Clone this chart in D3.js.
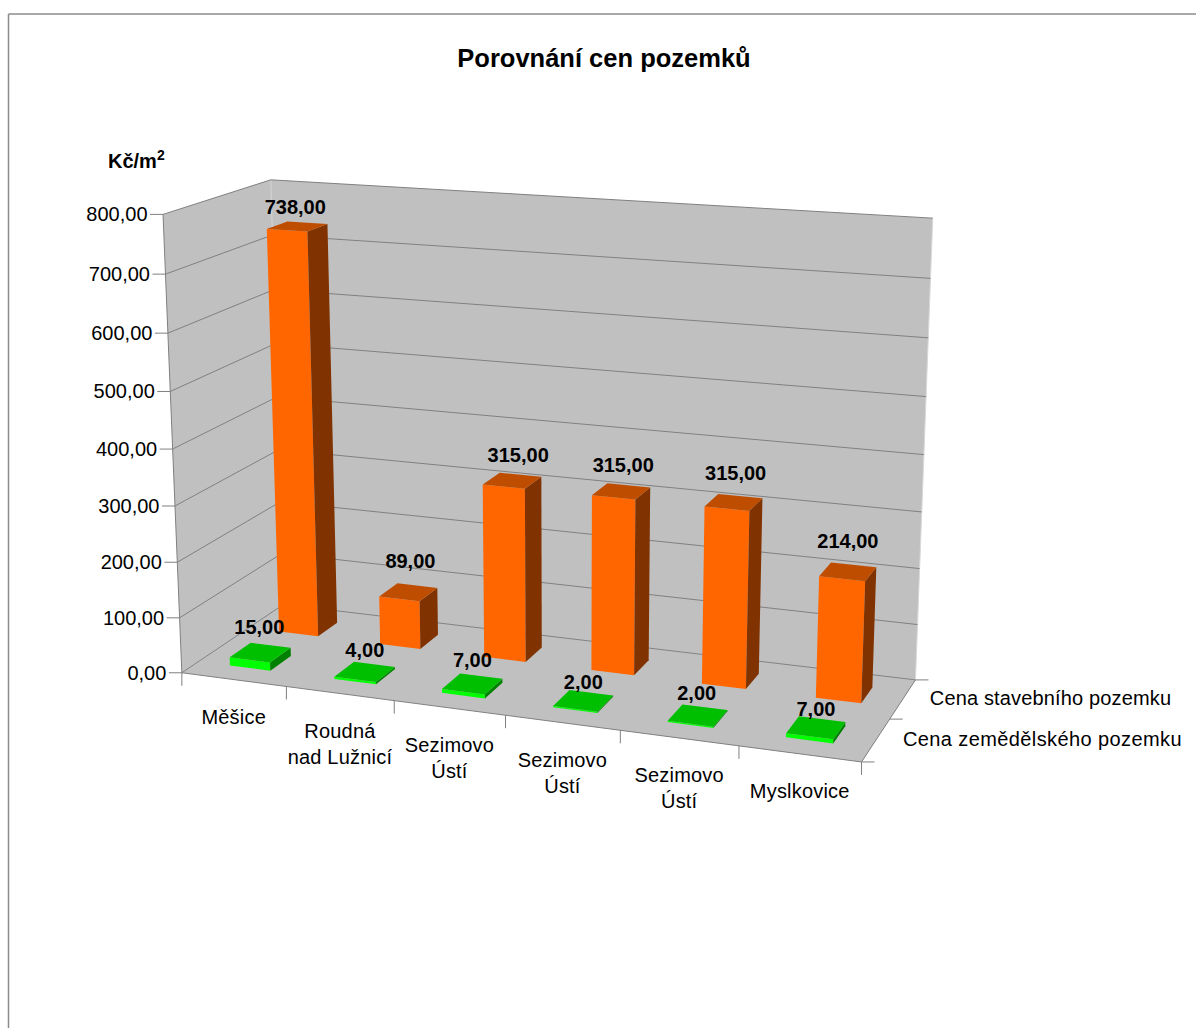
<!DOCTYPE html>
<html><head><meta charset="utf-8">
<style>html,body{margin:0;padding:0;background:#fff}svg{display:block}text{font-family:"Liberation Sans",Arial,sans-serif;fill:#000}</style>
<script src="https://cdn.jsdelivr.net/npm/d3@7/dist/d3.min.js"></script>
</head><body><svg id="c" width="1196" height="1028"></svg>
<script>
const categories = [["Měšice"],["Roudná","nad Lužnicí"],["Sezimovo","Ústí"],["Sezimovo","Ústí"],["Sezimovo","Ústí"],["Myslkovice"]];
const seriesNames = ["Cena zemědělského pozemku","Cena stavebního pozemku"];
const farmland = [15,4,7,2,2,7];
const building = [738,89,315,315,315,214];
const title = "Porovnání cen pozemků";
const axisTitle = "Kč/m";
const axisTitleSup = "2";

// layout only: label nudges in px, per series and category
const labelNudge = [
 [[-1,-1],[0,3],[0,1],[0,6],[-1,2],[0,6]],
 [[-2,5],[2,-7],[6,-1],[2,-2],[2,-5],[0,-6]]
];
const seriesSpacing = [.4,.15];

// camera calibration: box corner (u,v,h) -> screen (x,y)
const calibration = [
 [0,0,0,182,673],[1,0,0,861,761],[0,1,0,283,604],[1,1,0,915,680],
 [0,0,1,162.5,215],[0,1,1,271,180.5],[1,1,1,933,218],
 [1/6,0,0,287,686.7],[2/6,0,0,394.7,701],[3/6,0,0,505.7,716],[4/6,0,0,620,731],[5/6,0,0,739,746],
 [0,0,.5,172.5,447],[1,1,.25,920,568],[1,1,.125,917.7,625]
];
function solve(A,b){const n=b.length;A=A.map((r,i)=>[...r,b[i]]);
 for(let i=0;i<n;i++){let p=i;for(let k=i+1;k<n;k++)if(Math.abs(A[k][i])>Math.abs(A[p][i]))p=k;[A[i],A[p]]=[A[p],A[i]];
  for(let k=i+1;k<n;k++){const f=A[k][i]/A[i][i];for(let j=i;j<=n;j++)A[k][j]-=f*A[i][j];}}
 const x=new Array(n).fill(0);for(let i=n-1;i>=0;i--){let s=A[i][n];for(let j=i+1;j<n;j++)s-=A[i][j]*x[j];x[i]=s/A[i][i];}return x;}
const M=(()=>{const rows=[],rhs=[];
 calibration.forEach(([u,v,h,x,y])=>{
  rows.push([u,v,h,1,0,0,0,0,-x*u,-x*v,-x*h]);rhs.push(x);
  rows.push([0,0,0,0,u,v,h,1,-y*u,-y*v,-y*h]);rhs.push(y);});
 const N=d3.range(11).map(i=>d3.range(11).map(j=>d3.sum(rows,r=>r[i]*r[j])));
 const t=d3.range(11).map(i=>d3.sum(rows,(r,k)=>r[i]*rhs[k]));
 return solve(N,t);})();
const proj=(u,v,h)=>{const w=M[8]*u+M[9]*v+M[10]*h+1;
 return [(M[0]*u+M[1]*v+M[2]*h+M[3])/w,(M[4]*u+M[5]*v+M[6]*h+M[7])/w];};

const idx=d3.range(categories.length);
const xBand=d3.scaleBand().domain(idx).range([0,1]).paddingInner(.61).paddingOuter(.305);
const xTick=d3.scaleLinear().domain([0,categories.length]).range([0,1]);
const zBand=d3.scaleBand().domain(seriesNames).range([0,1]).paddingInner(.58).paddingOuter(.32);
const zTick=d3.scaleLinear().domain([0,seriesNames.length]).range([0,1]);
const yScale=d3.scaleLinear().domain([0,800]).range([0,1]);
const fmt=d3.formatLocale({decimal:",",thousands:" ",grouping:[3],currency:["","Kč"]}).format(".2f");

const svg=d3.select("#c");
const GRID="#808080";
const poly=d3.line().curve(d3.curveLinearClosed);
const seg=(g,a,b,col,w)=>g.append("line").attr("x1",a[0]).attr("y1",a[1]).attr("x2",b[0]).attr("y2",b[1]).attr("stroke",col).attr("stroke-width",w);

// page frame
seg(svg,[8.5,14],[1196,14],"#8c8c8c",1.5);
seg(svg,[8.5,14],[8.5,1028],"#8c8c8c",1.5);

// walls + floor
const walls=svg.append("g");
[[[0,0,0],[0,1,0],[0,1,1],[0,0,1]],[[0,1,0],[1,1,0],[1,1,1],[0,1,1]],[[0,0,0],[1,0,0],[1,1,0],[0,1,0]]]
 .forEach(f=>walls.append("path").attr("d",poly(f.map(p=>proj(...p)))).attr("fill","#c0c0c0"));
seg(walls,proj(0,1,0),proj(0,1,1),"#d4d4d4",1);
seg(walls,proj(1,1,0),proj(1,1,1),"#d8d8d8",1);

// gridlines
yScale.ticks(8).forEach(t=>{const h=yScale(t);
 seg(walls,proj(0,0,h),proj(0,1,h),GRID,1);
 seg(walls,proj(0,1,h),proj(1,1,h),GRID,1);
});

// axes
const axes=svg.append("g");
seg(axes,proj(0,0,0),proj(0,0,1),GRID,1);
seg(axes,proj(0,0,0),proj(1,0,0),GRID,1);
seg(axes,proj(1,0,0),proj(1,1,0),GRID,1);
const TICK=13;
yScale.ticks(8).forEach(t=>{const p=proj(0,0,yScale(t));
 seg(axes,[p[0]-TICK,p[1]],p,GRID,1);
 axes.append("text").attr("x",p[0]-15.5).attr("y",p[1]+7).attr("text-anchor","end")
  .attr("font-size",20).text(fmt(t));
});
d3.range(categories.length+1).forEach(i=>{const p=proj(xTick(i),0,0);seg(axes,p,[p[0],p[1]+TICK],GRID,1);});
d3.range(seriesNames.length+1).forEach(i=>{const p=proj(1,zTick(i),0);seg(axes,p,[p[0]+TICK,p[1]],GRID,1);});

categories.forEach((lines,i)=>{const p=proj(xTick(i+.5),0,0);
 lines.forEach((s,k)=>axes.append("text").attr("x",p[0]).attr("y",p[1]+44).attr("dy",k*26).attr("text-anchor","middle")
  .attr("font-size",20).attr("letter-spacing",.2).text(s));
});
seriesNames.forEach((s,i)=>{const p=proj(1,zTick(i+.5),0);
 axes.append("text").attr("x",p[0]+27).attr("y",p[1]+6).attr("font-size",20).attr("letter-spacing",seriesSpacing[i]).text(s);
});

// bars
const COLORS=[{front:"#00ff00",top:"#00bf00",side:"#008000"},{front:"#ff6600",top:"#bf4d00",side:"#803300"}];
const labels=[];
[[building,1],[farmland,0]].forEach(([vals,si])=>{
 const g=svg.append("g"),c=COLORS[si];
 const z0=zBand(seriesNames[si]),z1=z0+zBand.bandwidth();
 vals.forEach((val,i)=>{
  const u0=xBand(i),u1=u0+xBand.bandwidth(),h=yScale(val);
  const face=(pts,col)=>g.append("path").attr("d",poly(pts.map(p=>proj(...p)))).attr("fill",col);
  face([[u0,z0,0],[u1,z0,0],[u1,z0,h],[u0,z0,h]],c.front);
  face([[u1,z0,0],[u1,z1,0],[u1,z1,h],[u1,z0,h]],c.side);
  face([[u0,z0,h],[u1,z0,h],[u1,z1,h],[u0,z1,h]],c.top);
  const p=proj((u0+u1)/2,(z0+z1)/2,h),n=labelNudge[si][i];
  labels.push({x:p[0]+n[0],y:p[1]+n[1],val});
 });
});
const lab=svg.append("g");
labels.forEach(d=>lab.append("text").attr("x",d.x).attr("y",d.y-17.5).attr("text-anchor","middle")
 .attr("font-size",20).attr("font-weight","bold").text(fmt(d.val)));

// titles
svg.append("text").attr("x",604).attr("y",66.5).attr("text-anchor","middle").attr("font-size",25.5).attr("font-weight","bold").text(title);
const at=svg.append("text").attr("x",108).attr("y",168).attr("font-size",20).attr("font-weight","bold").text(axisTitle);
at.append("tspan").attr("dy",-8).attr("font-size",14).text(axisTitleSup);
</script></body></html>
